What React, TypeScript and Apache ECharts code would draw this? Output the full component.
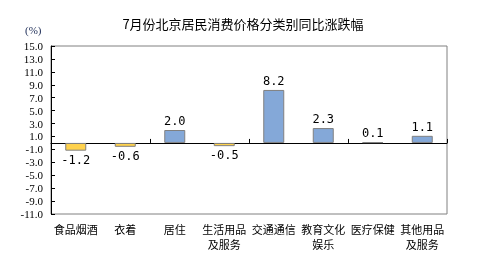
import React, { useEffect, useRef } from "react";
import * as echarts from "echarts";

const categories = ["食品烟酒", "衣着", "居住", "生活用品\n及服务", "交通通信", "教育文化\n娱乐", "医疗保健", "其他用品\n及服务"];
const values = [-1.2, -0.6, 2.0, -0.5, 8.2, 2.3, 0.1, 1.1];
const yMin = -11;
const yMax = 15;
const yStep = 2;
const title = "7月份北京居民消费价格分类别同比涨跌幅";
const unit = "(%)";

export default function App() {
  const ref = useRef<HTMLDivElement>(null);
  useEffect(() => {
    const chart = echarts.init(ref.current!, null, { renderer: "svg" });
    const data = values.map((v) => ({
      value: v,
      itemStyle: { color: v < 0 ? "#FFD24D" : "#84A8D8" },
      label: { position: v < 0 ? "bottom" : "top" },
    }));
    chart.setOption({
      animation: false,
      title: {
        text: title,
        left: "center",
        top: 12,
        textStyle: { fontSize: 13, fontWeight: "normal", color: "#000", fontFamily: "Noto Sans CJK SC" },
      },
      graphic: [
        { type: "text", left: 25, top: 24, style: { text: unit, fontSize: 11, fill: "#1a2a55", fontFamily: "Liberation Serif" } },
      ],
      grid: { left: 51, right: 39, top: 46, bottom: 53, show: true, borderColor: "#808080", borderWidth: 1 },
      xAxis: [
        {
          type: "category",
          data: categories,
          position: "bottom",
          axisLine: { show: false, onZero: false },
          axisTick: { show: false },
          axisLabel: { interval: 0, fontSize: 11, lineHeight: 15, color: "#000", fontFamily: "Noto Sans CJK SC", margin: 7 },
        },
        {
          type: "category",
          data: categories,
          position: "bottom",
          axisLine: { show: true, onZero: true, onZeroAxisIndex: 1, lineStyle: { color: "#000", width: 1 } },
          axisTick: { show: true, inside: true, length: 4, lineStyle: { color: "#000" } },
          axisLabel: { show: false },
        },
      ],
      yAxis: [
        {
          type: "value",
          min: 0,
          max: yMax - yMin,
          interval: yStep,
          axisLine: { show: true, lineStyle: { color: "#000" } },
          axisTick: { show: true, inside: true, length: 4, lineStyle: { color: "#000" } },
          splitLine: { show: false },
          axisLabel: {
            formatter: (v: number) => (v + yMin).toFixed(1),
            fontSize: 11,
            color: "#000",
            fontFamily: "Liberation Serif",
            margin: 8,
          },
        },
        {
          type: "value",
          min: yMin,
          max: yMax,
          show: false,
          splitLine: { show: false },
        },
      ],
      series: [
        {
          type: "bar",
          xAxisIndex: 0,
          yAxisIndex: 1,
          data,
          barWidth: 21,
          itemStyle: { borderColor: "#808080", borderWidth: 1 },
          label: {
            show: true,
            formatter: (p: any) => Number(p.value).toFixed(1),
            fontSize: 12,
            fontFamily: "DejaVu Sans Mono",
            color: "#000",
            distance: 3,
          },
        },
      ],
    });
    return () => chart.dispose();
  }, []);
  return <div ref={ref} style={{ position: "fixed", left: 0, top: 0, width: 486, height: 267 }} />;
}
